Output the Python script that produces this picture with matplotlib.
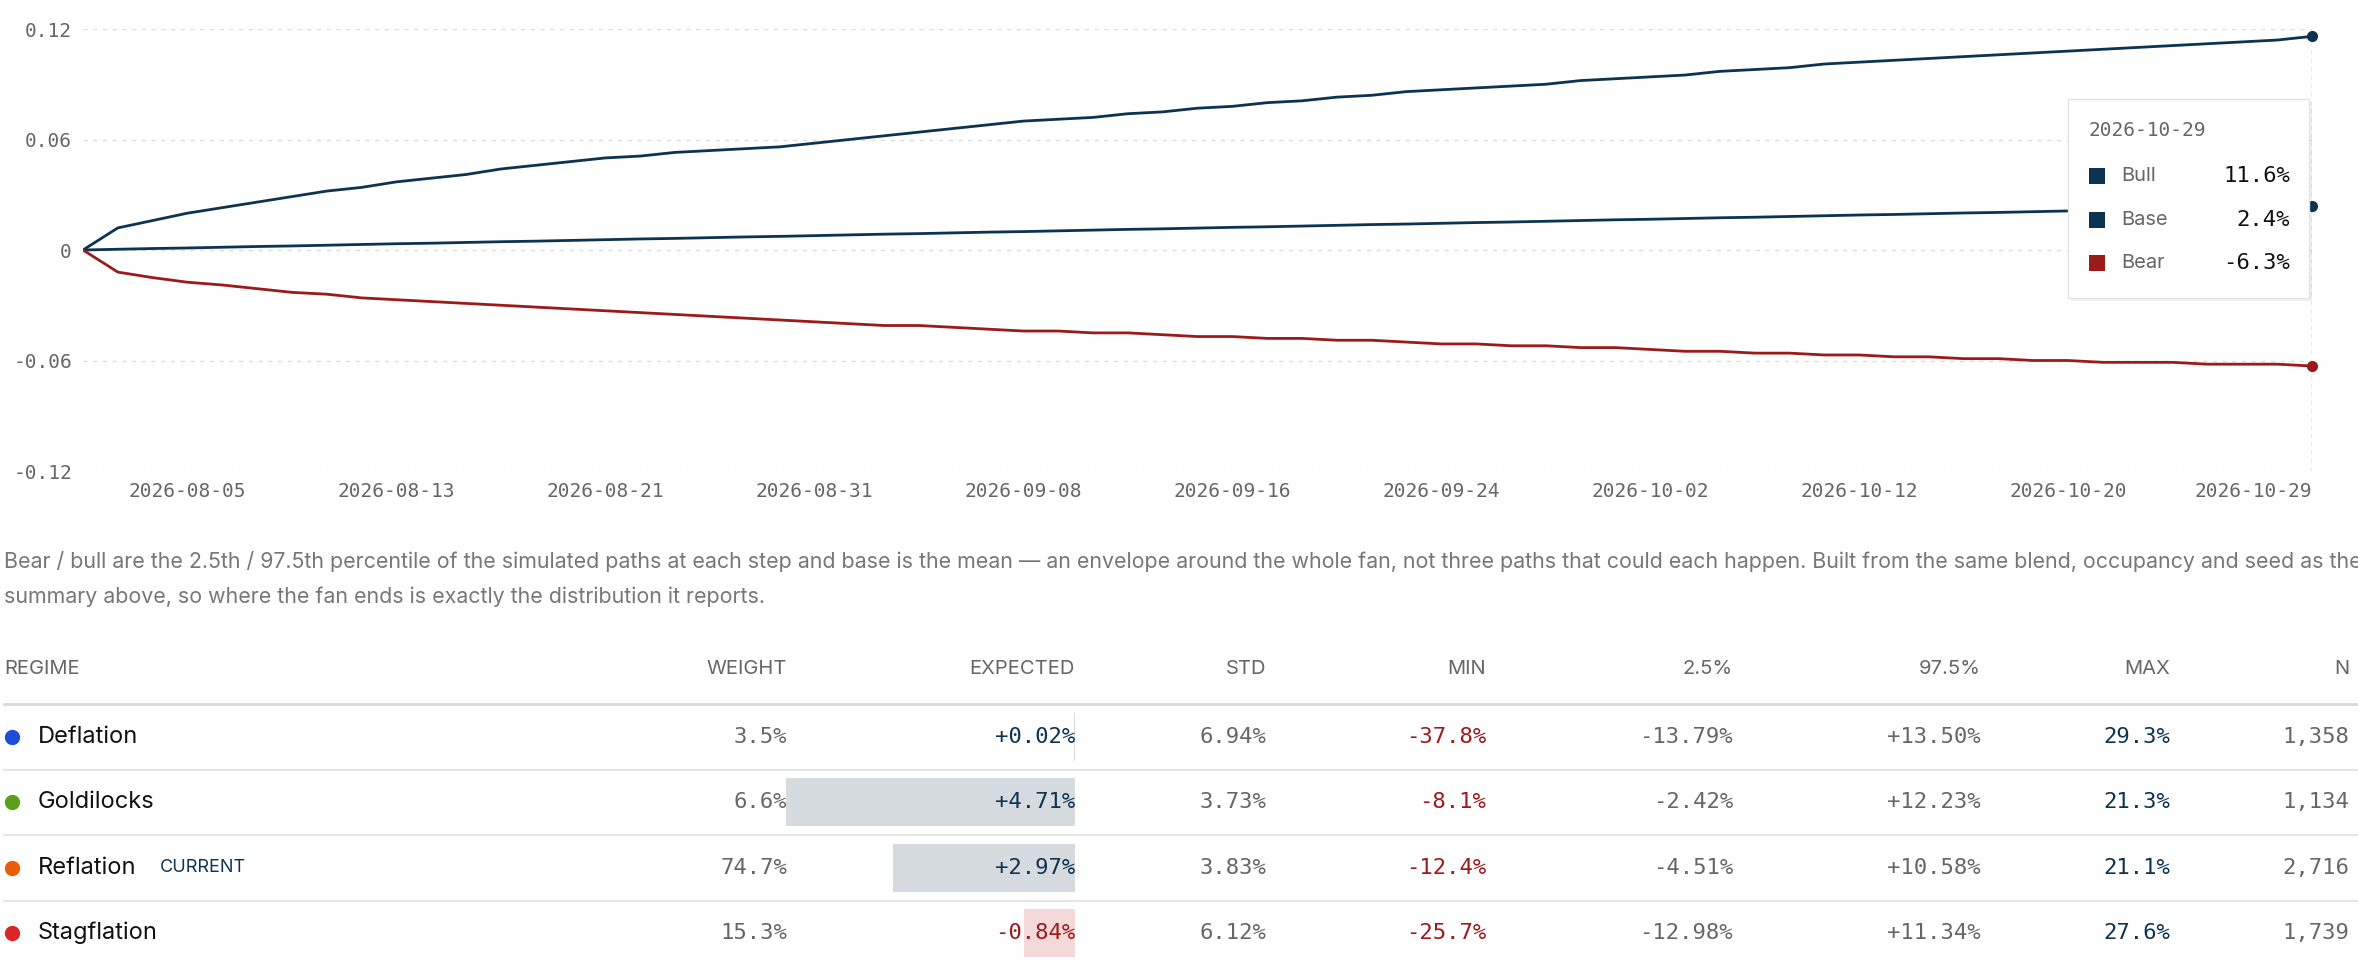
import numpy as np
import pandas as pd
import matplotlib
matplotlib.use("Agg")
import matplotlib.pyplot as plt
from matplotlib.patches import Rectangle

# ---- data ----
dates = pd.bdate_range("2026-07-31", "2026-10-29")
bull = [0.000, 0.012, 0.016, 0.020, 0.023, 0.026, 0.029, 0.032, 0.034, 0.037,
        0.039, 0.041, 0.044, 0.046, 0.048, 0.050, 0.051, 0.053, 0.054, 0.055,
        0.056, 0.058, 0.060, 0.062, 0.064, 0.066, 0.068, 0.070, 0.071, 0.072,
        0.074, 0.075, 0.077, 0.078, 0.080, 0.081, 0.083, 0.084, 0.086, 0.087,
        0.088, 0.089, 0.090, 0.092, 0.093, 0.094, 0.095, 0.097, 0.098, 0.099,
        0.101, 0.102, 0.103, 0.104, 0.105, 0.106, 0.107, 0.108, 0.109, 0.110,
        0.111, 0.112, 0.113, 0.114, 0.116]
base = [0.0000, 0.0004, 0.0008, 0.0011, 0.0015, 0.0019, 0.0022, 0.0026, 0.0030, 0.0034,
        0.0037, 0.0041, 0.0045, 0.0048, 0.0052, 0.0056, 0.0060, 0.0063, 0.0067, 0.0071,
        0.0074, 0.0078, 0.0082, 0.0086, 0.0089, 0.0093, 0.0097, 0.0100, 0.0104, 0.0108,
        0.0112, 0.0115, 0.0119, 0.0123, 0.0126, 0.0130, 0.0134, 0.0138, 0.0141, 0.0145,
        0.0149, 0.0152, 0.0156, 0.0160, 0.0164, 0.0167, 0.0171, 0.0175, 0.0178, 0.0182,
        0.0186, 0.0190, 0.0193, 0.0197, 0.0201, 0.0204, 0.0208, 0.0212, 0.0216, 0.0219,
        0.0223, 0.0227, 0.0230, 0.0234, 0.0240]
bear = [0.000, -0.012, -0.015, -0.0175, -0.019, -0.021, -0.023, -0.024, -0.026, -0.027,
        -0.028, -0.029, -0.030, -0.031, -0.032, -0.033, -0.034, -0.035, -0.036, -0.037,
        -0.038, -0.039, -0.040, -0.041, -0.041, -0.042, -0.043, -0.044, -0.044, -0.045,
        -0.045, -0.046, -0.047, -0.047, -0.048, -0.048, -0.049, -0.049, -0.050, -0.051,
        -0.051, -0.052, -0.052, -0.053, -0.053, -0.054, -0.055, -0.055, -0.056, -0.056,
        -0.057, -0.057, -0.058, -0.058, -0.059, -0.059, -0.060, -0.060, -0.061, -0.061,
        -0.061, -0.062, -0.062, -0.062, -0.063]

regimes = ["Deflation", "Goldilocks", "Reflation", "Stagflation"]
regime_colors = ["#1d4ed8", "#5b9e1c", "#ea5c0c", "#dc2626"]
weight = ["3.5%", "6.6%", "74.7%", "15.3%"]
expected = [0.02, 4.71, 2.97, -0.84]
std = ["6.94%", "3.73%", "3.83%", "6.12%"]
mins = ["-37.8%", "-8.1%", "-12.4%", "-25.7%"]
p025 = ["-13.79%", "-2.42%", "-4.51%", "-12.98%"]
p975 = ["+13.50%", "+12.23%", "+10.58%", "+11.34%"]
maxs = ["29.3%", "21.3%", "21.1%", "27.6%"]
counts = ["1,358", "1,134", "2,716", "1,739"]
current = "Reflation"

NAVY = "#0d3352"
RED = "#9b1b1b"
GREY = "#666666"
MONO = "DejaVu Sans Mono"
SANS = "Inter"

W, H = 2358, 964
fig = plt.figure(figsize=(W / 100, H / 100), dpi=100)

# ---- fan chart ----
ax = fig.add_axes([83 / W, 1 - 471 / H, (2312 - 83) / W, (471 - 29) / H])
x = np.arange(len(dates))
ax.plot(x, bull, color=NAVY, lw=2.0)
ax.plot(x, base, color=NAVY, lw=2.0)
ax.plot(x, bear, color=RED, lw=2.0)
last = x[-1]
for v, c in [(bull[-1], NAVY), (base[-1], NAVY), (bear[-1], RED)]:
    ax.plot([last], [v], "o", color=c, ms=7, clip_on=False, zorder=4)
ax.axvline(last, color="#999999", lw=1, ls=(0, (3, 3)))
ax.set_xlim(0, last)
ax.set_ylim(-0.12, 0.12)
yt = [-0.12, -0.06, 0, 0.06, 0.12]
ax.set_yticks(yt)
ax.set_yticklabels(["-0.12", "-0.06", "0", "0.06", "0.12"], family=MONO, color=GREY, fontsize=14)
for v in yt:
    ax.axhline(v, color="#dddddd", lw=1, ls=(0, (3, 4)), zorder=0)
ticks = [t for t in range(3, len(dates), 6) if last - t >= 6] + [last]
ax.set_xticks(ticks)
ax.set_xticklabels([dates[t].strftime("%Y-%m-%d") for t in ticks], family=MONO, color=GREY, fontsize=14)
ax.get_xticklabels()[-1].set_horizontalalignment("right")
ax.tick_params(length=0, pad=8)
for s in ax.spines.values():
    s.set_visible(False)

# ---- overlay in pixel coords ----
ov = fig.add_axes([0, 0, 1, 1], zorder=5)
ov.set_xlim(0, W)
ov.set_ylim(H, 0)
ov.axis("off")
ov.patch.set_alpha(0)

# tooltip
ov.add_patch(Rectangle((2071, 102), 241, 199, color="#000000", alpha=0.06, lw=0))
ov.add_patch(Rectangle((2068, 99), 241, 199, facecolor="white", edgecolor="#e3e3e3", lw=1))
ov.text(2089, 131, dates[-1].strftime("%Y-%m-%d"), family=MONO, color=GREY, fontsize=14, va="center")
for yy, name, val, col in [(176, "Bull", bull[-1], NAVY), (220, "Base", base[-1], NAVY), (263, "Bear", bear[-1], RED)]:
    ov.add_patch(Rectangle((2089, yy - 8), 16, 16, color=col, lw=0))
    ov.text(2121, yy, name, family=SANS, color=GREY, fontsize=14.5, va="center")
    ov.text(2290, yy, f"{val * 100:.1f}%", family=MONO, color="#111111", fontsize=16, va="center", ha="right")

# caption
cap1 = ("Bear / bull are the 2.5th / 97.5th percentile of the simulated paths at each step and base is the mean \u2014 "
        "an envelope around the whole fan, not three paths that could each happen. Built from the same blend, occupancy and seed as the")
cap2 = "summary above, so where the fan ends is exactly the distribution it reports."
ov.text(4, 561, cap1, family=SANS, color="#777777", fontsize=15.4, va="center")
ov.text(4, 597, cap2, family=SANS, color="#777777", fontsize=15.4, va="center")

# table
cols_right = [787, 1075, 1266, 1486, 1733, 1981, 2170, 2349]
headers = ["WEIGHT", "EXPECTED", "STD", "MIN", "2.5%", "97.5%", "MAX", "N"]
ov.text(4, 669, "REGIME", family=SANS, color=GREY, fontsize=14.5, va="center")
for xr, h in zip(cols_right, headers):
    ov.text(xr, 669, h, family=SANS, color=GREY, fontsize=14.5, va="center", ha="right")
ov.plot([4, W], [704, 704], color="#d8d8d8", lw=2)
rows_y = [737, 802, 868, 933]
px_per_pct = 61.3
for i, yy in enumerate(rows_y):
    if i < 3:
        ov.plot([4, W], [yy + 33, yy + 33], color="#e6e6e6", lw=1.5)
    e = expected[i]
    if e >= 0:
        ov.add_patch(Rectangle((1075 - e * px_per_pct, yy - 24), max(e * px_per_pct, 1.5), 48,
                               color="#d6dbe0", lw=0, zorder=0))
    else:
        ov.add_patch(Rectangle((1075 + e * px_per_pct, yy - 24), -e * px_per_pct, 48,
                               color="#f3d9d9", lw=0, zorder=0))
    ov.plot([12], [yy], "o", color=regime_colors[i], ms=10)
    ov.text(38, yy, regimes[i], family=SANS, color="#111111", fontsize=17, va="center")
    if regimes[i] == current:
        ov.text(160, yy, "CURRENT", family=SANS, color=NAVY, fontsize=13, va="center")
    ecol = NAVY if e >= 0 else RED
    vals = [(weight[i], GREY), (f"{e:+.2f}%", ecol), (std[i], GREY), (mins[i], RED),
            (p025[i], GREY), (p975[i], GREY), (maxs[i], NAVY), (counts[i], GREY)]
    for xr, (t, c) in zip(cols_right, vals):
        ov.text(xr, yy, t, family=MONO, color=c, fontsize=16, va="center", ha="right")

fig.savefig("out.png", dpi=100)
